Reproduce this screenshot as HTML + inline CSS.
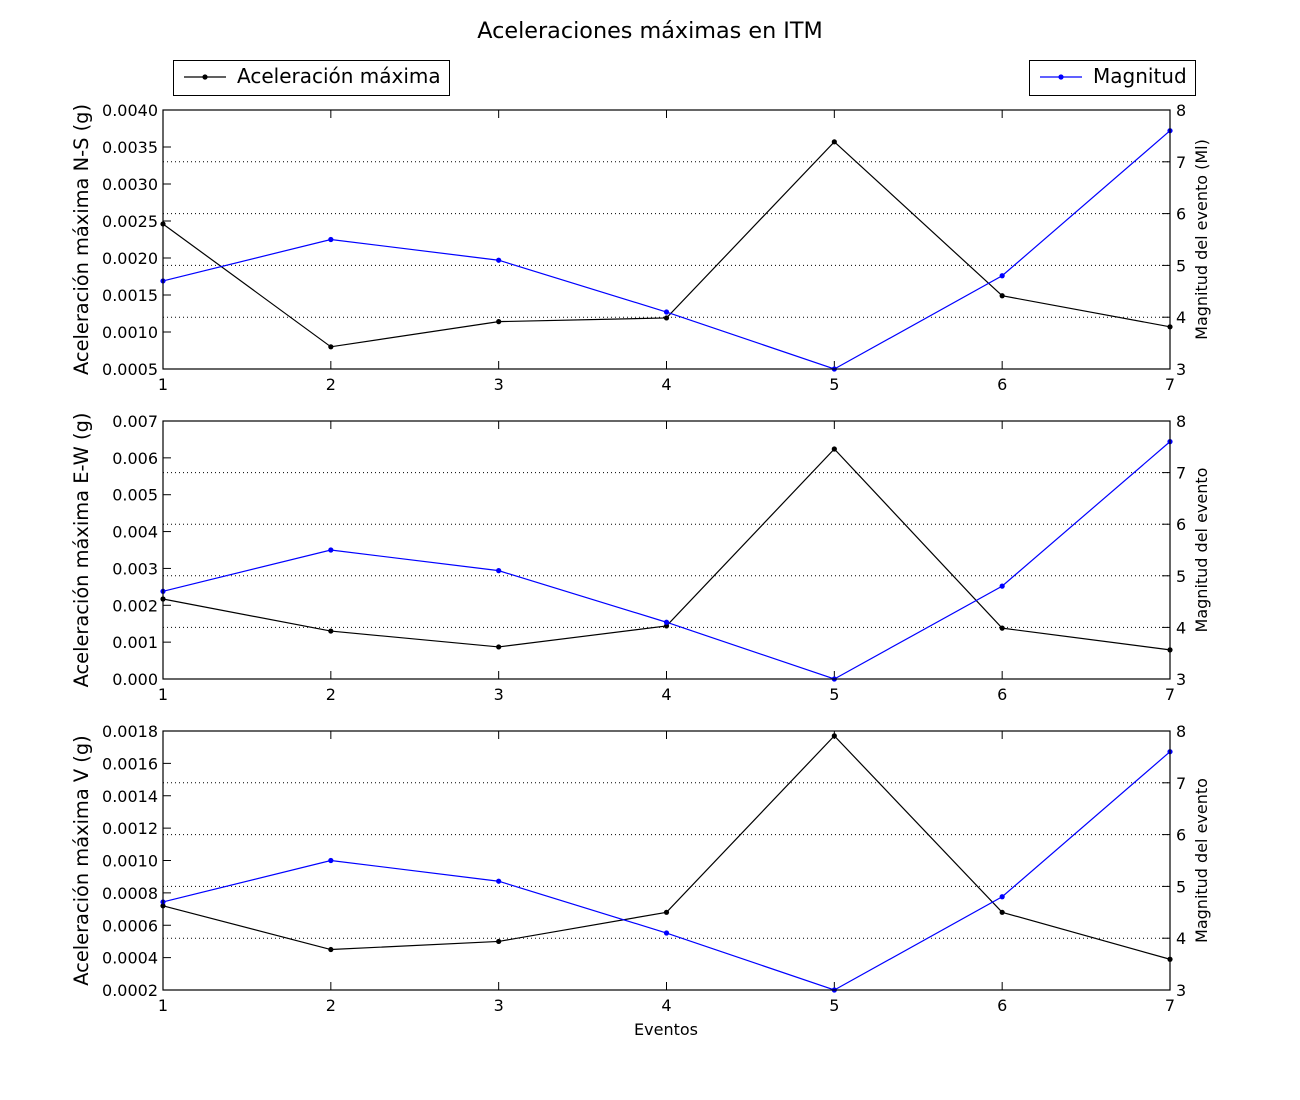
<!DOCTYPE html>
<html><head><meta charset="utf-8"><style>
body{margin:0;background:#fff;}
svg{display:block;font-family:"DejaVu Sans","Liberation Sans",sans-serif;}
</style></head><body>
<svg id="chart" width="1300" height="1100"></svg>
<script>
const events=[1,2,3,4,5,6,7];
const magnitudes=[4.7,5.5,5.1,4.1,3.0,4.8,7.6];
const accNS=[0.00246,0.00080,0.00114,0.00119,0.00357,0.00149,0.00107];
const accEW=[0.00217,0.00130,0.00087,0.00144,0.00624,0.00138,0.00079];
const accV=[0.00072,0.00045,0.00050,0.00068,0.00177,0.00068,0.00039];
const ticksNS=["0.0005","0.0010","0.0015","0.0020","0.0025","0.0030","0.0035","0.0040"];
const ticksEW=["0.000","0.001","0.002","0.003","0.004","0.005","0.006","0.007"];
const ticksV=["0.0002","0.0004","0.0006","0.0008","0.0010","0.0012","0.0014","0.0016","0.0018"];
const magTicks=[3,4,5,6,7,8];

const NS="http://www.w3.org/2000/svg";
const svg=document.getElementById('chart');
function el(tag,attrs,parent){const e=document.createElementNS(NS,tag);for(const k in attrs)e.setAttribute(k,attrs[k]);(parent||svg).appendChild(e);return e;}
function txt(s,attrs,parent){const e=el('text',attrs,parent);e.textContent=s;return e;}

const X0=163,X1=1170;
const panels=[
 {top:110,bot:369,data:accNS,ticks:ticksNS,label:"Aceleración máxima N-S (g)",rlabel:"Magnitud del evento (Ml)",name:"ns"},
 {top:421,bot:679,data:accEW,ticks:ticksEW,label:"Aceleración máxima E-W (g)",rlabel:"Magnitud del evento",name:"ew"},
 {top:731,bot:990,data:accV,ticks:ticksV,label:"Aceleración máxima V (g)",rlabel:"Magnitud del evento",name:"v"}
];
const xs=v=>X0+(v-1)/(6)*(X1-X0);

txt("Aceleraciones máximas en ITM",{x:650,y:38,'text-anchor':'middle','font-size':22.3,});

panels.forEach(p=>{
 const g=el('g',{});
 
 
 const tv=p.ticks.map(Number);
 const ymin=tv[0],ymax=tv[tv.length-1];
 const ys=v=>p.bot-(v-ymin)/(ymax-ymin)*(p.bot-p.top);
 const ym=v=>p.bot-(v-3)/5*(p.bot-p.top);
 magTicks.forEach(m=>{if(m>3&&m<8){const l=el('line',{x1:X0,x2:X1,y1:ym(m),y2:ym(m),stroke:'#000','stroke-width':1,'stroke-dasharray':'1,3'},g);}});
 p.ticks.forEach((t,i)=>{const y=ys(tv[i]);
  el('line',{x1:X0,x2:X0+8,y1:y,y2:y,stroke:'#000'},g);
  const tl=txt(t,{x:X0-5,y:y+6,'text-anchor':'end','font-size':16},g);
  });
 magTicks.forEach(m=>{const y=ym(m);
  el('line',{x1:X1-8,x2:X1,y1:y,y2:y,stroke:'#000'},g);
  const tl=txt(String(m),{x:X1+6,y:y+6,'font-size':16},g);
  });
 events.forEach(e=>{const x=xs(e);
  el('line',{x1:x,x2:x,y1:p.bot,y2:p.bot-8,stroke:'#000'},g);
  el('line',{x1:x,x2:x,y1:p.top,y2:p.top+8,stroke:'#000'},g);
  const tl=txt(String(e),{x:x,y:p.bot+21,'text-anchor':'middle','font-size':16},g);
  });
 const accPts=p.data.map((v,i)=>xs(events[i])+','+ys(v)).join(' ');
 const l1=el('polyline',{points:accPts,fill:'none',stroke:'#000','stroke-width':1.2},g);
 
 p.data.forEach((v,i)=>{const c=el('circle',{cx:xs(events[i]),cy:ys(v),r:2.6,fill:'#000'},g);});
 const magPts=magnitudes.map((v,i)=>xs(events[i])+','+ym(v)).join(' ');
 const l2=el('polyline',{points:magPts,fill:'none',stroke:'#0000ff','stroke-width':1.2},g);
 
 magnitudes.forEach((v,i)=>{const c=el('circle',{cx:xs(events[i]),cy:ym(v),r:2.6,fill:'#0000ff'},g);});
 const f=el('rect',{x:X0,y:p.top,width:X1-X0,height:p.bot-p.top,fill:'none',stroke:'#000','stroke-width':1.2},g);
 
 const mid=(p.top+p.bot)/2;
 const yl=txt(p.label,{x:0,y:0,transform:`translate(88,${mid}) rotate(-90)`,'text-anchor':'middle','font-size':19.4},g);
 
 const rl=txt(p.rlabel,{x:0,y:0,transform:`translate(1207,${mid}) rotate(-90)`,'text-anchor':'middle','font-size':16},g);
 
});
txt("Eventos",{x:666,y:1035,'text-anchor':'middle','font-size':16,});
</script>
<svg style="position:absolute;left:0;top:0" width="1300" height="100">
 <g>
  <rect x="173.5" y="60.5" width="276" height="35" fill="#fff" stroke="#000"/>
  <line x1="184" x2="226" y1="77" y2="77" stroke="#000" stroke-width="1.2"/>
  <circle cx="205" cy="77" r="2.6" fill="#000"/>
  <text x="237" y="83" font-size="20" font-family="DejaVu Sans, Liberation Sans, sans-serif">Aceleración máxima</text>
 </g>
 <g>
  <rect x="1029.5" y="60.5" width="166" height="35" fill="#fff" stroke="#000"/>
  <line x1="1040" x2="1082" y1="77" y2="77" stroke="#0000ff" stroke-width="1.2"/>
  <circle cx="1061" cy="77" r="2.6" fill="#0000ff"/>
  <text x="1093" y="83" font-size="20" font-family="DejaVu Sans, Liberation Sans, sans-serif">Magnitud</text>
 </g>
</svg>
</body></html>
